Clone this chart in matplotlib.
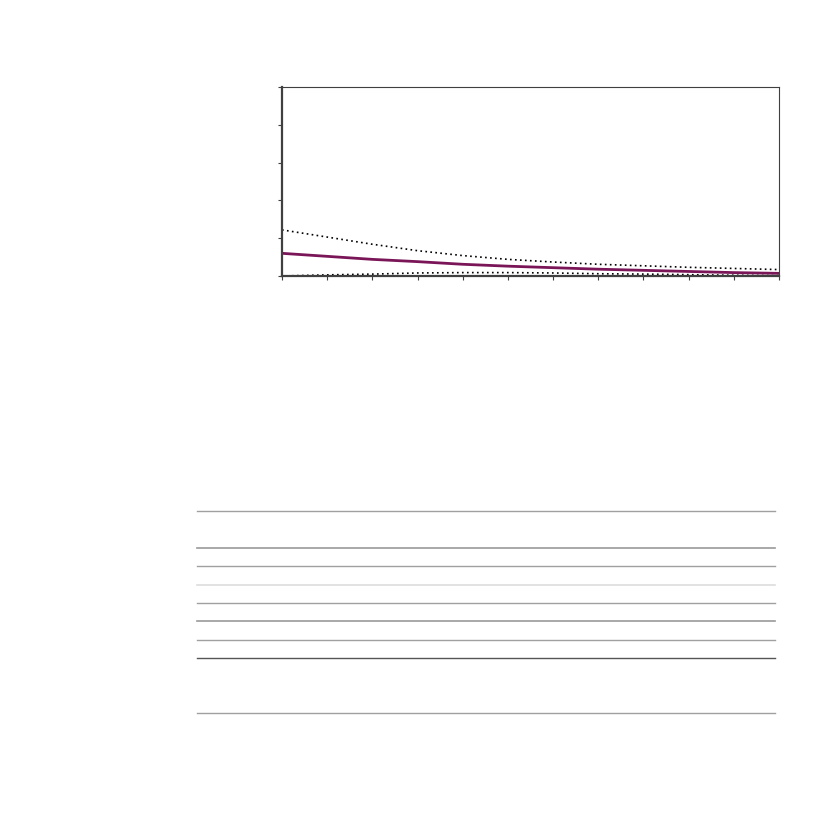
import numpy as np
import matplotlib
matplotlib.use("Agg")
import matplotlib.pyplot as plt
from matplotlib.lines import Line2D

# values (x ticks 0..11, y ticks 0..5)
x = np.arange(12)
upper_band = [1.22, 1.03, 0.84, 0.67, 0.54, 0.44, 0.37, 0.31, 0.27, 0.23, 0.20, 0.17]
estimate = [0.60, 0.52, 0.44, 0.38, 0.31, 0.26, 0.22, 0.18, 0.15, 0.12, 0.09, 0.07]
lower_band = [0.0, 0.03, 0.05, 0.08, 0.09, 0.09, 0.08, 0.06, 0.05, 0.035, 0.02, 0.01]

W = H = 827
fig = plt.figure(figsize=(8.27, 8.27), dpi=100)
ax = fig.add_axes([282 / W, 1 - 276 / H, (779 - 282) / W, (276 - 87) / H])

ax.plot(x, upper_band, color="black", linestyle=(0, (1, 2)), linewidth=1.2)
ax.plot(x, lower_band, color="black", linestyle=(0, (1, 2)), linewidth=1.2)
ax.plot(x, estimate, color="#7a1558", linewidth=2)

ax.set_xlim(0, 11)
ax.set_ylim(0, 5)
ax.set_xticks(range(12))
ax.set_yticks(range(6))
ax.set_xticklabels([])
ax.set_yticklabels([])
ax.tick_params(length=3, width=0.8, color="#404040")
for side in ["left", "bottom"]:
    ax.spines[side].set_linewidth(1.6)
    ax.spines[side].set_color("#404040")
for side in ["top", "right"]:
    ax.spines[side].set_linewidth(0.8)
    ax.spines[side].set_color("#404040")

# table rules below the chart
rules = [(511, "#a0a0a0", 1.0), (548, "#999999", 1.2), (566, "#a0a0a0", 1.0),
         (585, "#dddddd", 1.2), (603, "#a0a0a0", 1.0), (621, "#999999", 1.2),
         (640, "#a0a0a0", 1.0), (658, "#555555", 1.0), (713, "#a0a0a0", 1.0)]
for yy, c, lw in rules:
    fig.add_artist(Line2D([197 / W, 775 / W], [1 - yy / H, 1 - yy / H],
                          color=c, linewidth=lw, transform=fig.transFigure))

fig.savefig("out.png", dpi=100)
